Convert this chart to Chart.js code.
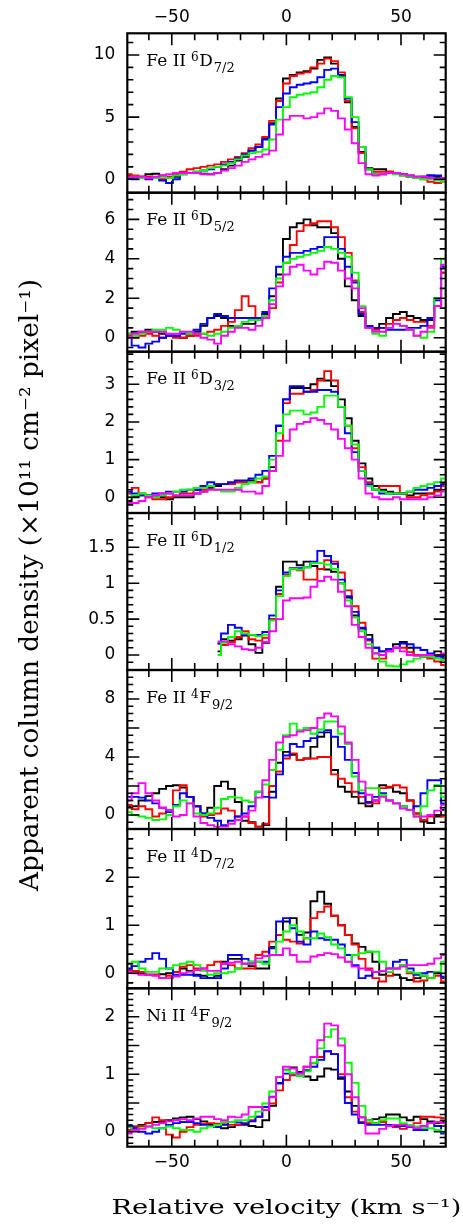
<!DOCTYPE html>
<html>
<head>
<meta charset="utf-8">
<script src="https://cdn.jsdelivr.net/npm/chart.js@4.4.1/dist/chart.umd.min.js"></script>
<style>
  html, body { margin: 0; padding: 0; background: #fff; }
  #wrap { position: relative; width: 463px; height: 1232px; }
</style>
</head>
<body>
<div id="wrap"><canvas id="profiles" width="463" height="1232"></canvas></div>
<script>
const velocity = [-69,-66,-63,-60,-57,-54,-51,-48,-45,-42,-39,-36,-33,-30,-27,-24,-21,-18,-15,-12,-9,-6,-3,0,3,6,9,12,15,18,21,24,27,30,33,36,39,42,45,48,51,54,57,60,63,66,69];

// Fe II 6D 7/2
const d72Black   = [0.3,0.2,0.2,0.4,0.45,0.3,0.1,0.2,0.5,0.5,0.5,0.45,0.4,0.5,0.8,1.1,1.5,1.8,2.3,2.6,3.3,4.5,6.5,8.1,8.4,8.6,8.7,8.9,9.6,9.8,9.3,8.4,6.2,4.2,2.2,0.9,0.8,0.8,0.6,0.5,0.4,0.3,0.2,0.2,0.3,0.2,0.0];
const d72Red     = [0.4,0.3,0.2,0.2,0.1,0.0,0.2,0.4,0.6,0.8,0.9,1.0,1.1,1.2,1.4,1.6,1.8,2.1,2.5,2.8,3.4,4.7,6.3,7.7,8.3,8.5,8.6,9.0,9.3,9.7,9.5,8.6,6.3,4.1,2.1,0.8,0.6,0.6,0.6,0.5,0.3,0.2,0.1,0.0,-0.2,-0.3,-0.2];
const d72Blue    = [0.1,0.0,0.1,0.0,0.1,-0.1,-0.3,0.0,0.4,0.5,0.6,0.7,0.8,1.0,1.2,1.4,1.7,2.0,2.3,2.6,3.2,4.4,5.8,6.9,7.4,7.6,7.7,7.8,8.2,8.8,8.9,8.3,6.5,4.6,2.6,0.8,0.4,0.4,0.5,0.5,0.4,0.2,0.1,0.2,0.3,0.3,0.1];
const d72Green   = [0.2,0.2,0.1,0.1,0.1,0.2,0.1,0.3,0.4,0.5,0.6,0.7,0.9,1.0,1.1,1.3,1.6,1.9,2.1,2.2,2.4,3.2,4.8,5.8,6.6,6.8,6.9,7.0,7.4,8.0,8.3,8.2,6.6,5.0,2.6,0.8,0.4,0.4,0.5,0.4,0.3,0.2,0.1,0.0,0.0,-0.1,-0.2];
const d72Magenta = [0.2,0.2,0.2,0.1,0.2,0.3,0.4,0.5,0.5,0.5,0.5,0.4,0.4,0.5,0.7,0.9,1.1,1.4,1.6,1.8,2.0,2.3,3.6,4.8,5.1,5.1,4.9,5.0,5.3,5.7,5.5,4.9,4.0,2.9,1.3,0.4,0.3,0.4,0.5,0.5,0.4,0.3,0.2,0.2,0.1,0.0,0.1];

// Fe II 6D 5/2
const d52Black   = [0.2,0.3,0.3,0.4,0.3,0.2,0.1,0.1,0.0,0.1,0.3,0.6,1.0,1.1,1.0,0.6,0.6,0.7,0.7,0.9,1.2,2.1,3.2,5.0,5.6,5.8,6.0,5.7,5.6,5.6,5.3,4.0,2.6,1.9,1.1,0.6,0.5,0.7,1.0,1.2,1.3,1.1,1.0,0.9,0.9,1.6,3.3];
const d52Red     = [0.1,0.0,0.1,0.2,0.1,0.0,0.1,0.0,0.0,0.1,0.1,0.2,0.3,0.4,0.6,0.8,1.4,2.1,1.6,1.0,1.0,1.5,2.8,3.8,4.7,5.4,5.7,5.8,5.9,5.9,5.6,5.1,4.3,2.9,1.3,0.5,0.4,0.5,0.7,0.9,1.0,0.9,0.8,0.8,0.6,1.6,3.3];
const d52Blue    = [0.0,-0.4,-0.5,-0.3,-0.2,0.0,0.1,0.1,0.2,0.2,0.4,0.7,1.0,1.2,1.1,1.0,1.0,1.0,1.0,1.0,1.3,2.5,3.6,4.1,4.3,4.3,4.4,4.5,4.6,5.1,5.1,4.5,3.6,2.8,1.2,0.6,0.5,0.5,0.4,0.4,0.4,0.5,0.5,0.6,1.0,1.9,3.6];
const d52Green   = [0.2,0.1,0.2,0.3,0.4,0.4,0.5,0.4,0.3,0.2,0.2,0.2,0.1,0.2,0.3,0.5,0.6,0.8,0.9,0.9,1.1,1.9,3.0,3.8,4.0,4.1,4.2,4.3,4.4,4.6,4.5,4.3,4.1,3.3,1.6,0.5,0.2,0.1,0.5,0.7,0.6,0.4,0.1,0.0,0.3,2.0,4.0];
const d52Magenta = [0.0,0.2,0.3,0.3,0.3,0.3,0.2,0.2,0.3,0.3,0.2,0.0,-0.1,-0.3,0.1,0.3,0.5,0.5,0.4,0.6,1.0,1.7,2.6,3.2,3.6,3.7,3.4,3.2,3.5,3.85,3.8,3.4,3.0,2.5,1.5,0.5,0.3,0.3,0.5,0.7,0.6,0.4,0.1,0.3,0.5,1.6,3.7];

// Fe II 6D 3/2
const d32Black   = [-0.1,0.0,0.05,0.05,0.0,0.0,-0.05,0.0,0.0,0.0,0.1,0.15,0.25,0.3,0.35,0.35,0.4,0.4,0.45,0.4,0.5,0.8,1.9,2.6,2.9,2.9,2.9,3.0,3.15,3.1,2.95,2.6,2.1,1.5,0.9,0.5,0.3,0.2,0.15,0.1,0.1,0.05,0.1,0.1,0.1,0.2,0.35];
const d32Red     = [0.1,0.25,0.1,0.0,-0.05,-0.05,0.0,0.05,0.1,0.1,0.2,0.2,0.3,0.35,0.35,0.35,0.4,0.4,0.4,0.4,0.5,0.7,1.5,2.5,2.75,2.75,2.8,2.85,3.1,3.35,3.1,2.4,1.9,1.3,0.8,0.4,0.2,0.3,0.3,0.3,0.1,0.0,0.0,0.05,0.1,0.15,0.3];
const d32Blue    = [0.15,0.1,0.05,0.05,0.1,0.1,0.15,0.15,0.15,0.2,0.2,0.3,0.4,0.35,0.35,0.4,0.45,0.45,0.5,0.6,0.7,1.1,1.9,2.6,2.95,2.95,2.8,2.8,2.85,2.85,2.8,2.4,1.7,1.2,0.7,0.35,0.2,0.1,0.1,0.1,0.1,0.15,0.2,0.2,0.25,0.3,0.35];
const d32Green   = [0.0,0.05,0.1,0.05,0.0,0.05,0.1,0.15,0.2,0.2,0.25,0.25,0.3,0.2,0.15,0.15,0.25,0.35,0.4,0.5,0.55,1.0,1.7,2.2,2.3,2.3,2.2,2.25,2.4,2.7,2.7,2.4,1.9,1.4,0.7,0.3,0.2,0.15,0.1,0.1,0.1,0.15,0.25,0.3,0.35,0.4,0.5];
const d32Magenta = [-0.15,-0.15,-0.1,0.0,0.05,0.1,0.1,0.05,0.05,0.05,0.1,0.15,0.2,0.2,0.2,0.2,0.2,0.15,0.15,0.1,0.3,0.7,1.1,1.5,1.8,1.95,2.0,2.1,2.05,1.95,1.8,1.55,1.3,1.0,0.5,0.1,0.0,-0.05,-0.05,0.0,-0.05,-0.05,-0.05,-0.05,0.0,0.05,0.15];

// Fe II 6D 1/2 (no coverage below -30 km/s)
const d12Black   = [null,null,null,null,null,null,null,null,null,null,null,null,null,0.05,0.22,0.2,0.22,0.27,0.15,0.03,0.17,0.5,0.95,1.3,1.3,1.25,1.3,1.24,1.2,1.19,1.16,1.0,0.8,0.55,0.37,0.28,0.1,0.05,0.08,0.15,0.18,0.1,0.0,-0.02,-0.02,0.05,-0.02];
const d12Red     = [null,null,null,null,null,null,null,null,null,null,null,null,null,0.16,0.14,0.18,0.25,0.33,0.22,0.2,0.24,0.5,0.85,1.12,1.2,1.18,1.05,1.05,1.2,1.32,1.3,1.15,0.9,0.68,0.45,0.2,-0.05,-0.05,0.05,0.1,0.1,0.04,0.0,-0.02,-0.05,-0.09,-0.14];
const d12Blue    = [null,null,null,null,null,null,null,null,null,null,null,null,null,0.16,0.3,0.42,0.38,0.28,0.28,0.28,0.32,0.55,0.9,1.15,1.21,1.21,1.22,1.3,1.45,1.38,1.27,1.05,0.82,0.6,0.38,0.22,0.1,0.05,0.08,0.1,0.16,0.15,0.1,0.07,0.02,-0.02,-0.04];
const d12Green   = [null,null,null,null,null,null,null,null,null,null,null,null,null,0.0,0.17,0.25,0.33,0.3,0.28,0.26,0.28,0.48,0.82,1.1,1.2,1.19,1.22,1.28,1.28,1.26,1.2,1.0,0.76,0.52,0.33,0.15,0.03,-0.09,-0.15,-0.16,-0.13,-0.09,-0.05,-0.02,-0.02,-0.05,-0.07];
const d12Magenta = [null,null,null,null,null,null,null,null,null,null,null,null,null,0.19,0.19,0.15,0.12,0.08,0.07,0.1,0.18,0.33,0.5,0.76,0.79,0.79,0.8,0.95,1.03,1.09,1.05,0.88,0.68,0.42,0.25,0.1,0.02,0.0,0.05,0.1,0.05,0.0,-0.01,0.0,0.0,0.0,0.02];

// Fe II 4F 9/2
const f92Black   = [0.6,0.6,1.0,1.3,1.5,1.8,2.0,2.05,1.9,1.25,0.6,0.1,0.5,2.0,2.3,1.8,0.9,-0.4,-0.5,-0.8,-0.7,1.6,3.6,4.35,4.15,3.8,3.9,4.7,5.4,5.7,3.1,1.95,1.6,1.25,0.8,0.6,1.0,2.05,1.9,1.6,1.5,1.0,0.1,-0.45,-0.55,-0.1,0.35];
const f92Red     = [0.7,0.4,0.6,0.4,-0.1,0.1,0.35,1.7,2.05,1.25,0.6,-0.1,0.0,0.1,0.45,0.3,-0.1,-0.1,-0.55,-0.8,-0.6,2.0,3.0,3.9,4.25,3.8,3.9,3.9,4.0,4.0,2.8,2.5,2.2,1.6,1.25,0.8,0.8,1.85,1.95,2.05,1.9,1.0,0.1,-0.35,-0.1,0.0,-0.1];
const f92Blue    = [1.25,1.25,1.2,1.0,0.8,0.5,0.2,0.7,1.5,1.25,0.6,0.1,-0.2,-0.4,-0.7,-0.4,-0.1,0.1,0.6,1.6,1.25,1.2,2.8,4.1,4.9,4.7,5.1,5.3,5.7,5.85,5.4,4.7,3.8,2.9,1.5,0.9,1.25,1.5,1.0,0.8,0.6,0.35,0.6,1.5,2.4,2.4,0.8];
const f92Green   = [0.2,0.0,-0.1,-0.2,-0.35,-0.3,0.0,0.6,1.0,0.8,0.1,0.0,0.1,0.5,1.1,1.25,1.2,1.0,0.9,1.6,2.1,3.1,4.5,5.5,6.3,5.85,6.0,5.6,5.9,6.45,6.45,5.6,4.9,2.65,1.7,1.85,1.85,1.4,1.0,0.8,0.6,0.35,-0.1,0.6,1.7,2.05,1.25];
const f92Magenta = [1.0,1.5,2.2,1.5,1.0,0.5,0.35,-0.1,0.0,0.8,-0.1,-0.55,-0.7,-0.8,-0.8,-0.6,-0.35,-0.1,0.3,1.2,2.4,3.8,5.0,5.4,5.5,5.75,5.85,6.0,6.7,7.0,6.8,6.1,5.0,3.8,2.3,1.4,1.0,1.25,1.0,0.8,0.45,0.35,-0.1,-0.1,0.0,0.3,0.7];

// Fe II 4D 7/2
const q72Black   = [0.2,0.05,0.0,-0.03,-0.03,-0.02,0.0,0.03,0.1,0.05,-0.03,-0.05,-0.1,-0.05,0.24,0.3,0.3,0.2,0.15,0.1,0.1,0.55,0.8,1.08,1.15,0.8,0.85,1.5,1.7,1.45,1.2,1.0,0.8,0.62,0.55,0.45,0.24,-0.03,0.03,-0.03,-0.1,-0.14,-0.1,-0.05,-0.1,0.0,-0.1];
const q72Red     = [0.07,0.05,0.03,-0.03,-0.03,-0.1,-0.05,0.03,0.14,0.17,0.1,0.1,0.17,0.24,0.2,0.17,0.1,0.1,0.1,0.38,0.45,0.66,0.8,0.7,0.66,0.62,0.73,1.15,1.28,1.39,1.2,1.0,0.8,0.6,0.3,0.1,-0.1,-0.17,-0.05,0.1,0.17,0.0,-0.17,-0.15,-0.1,-0.05,-0.17];
const q72Blue    = [0.1,0.15,0.24,0.3,0.42,0.3,0.1,-0.03,-0.03,-0.03,-0.05,-0.1,-0.1,-0.1,0.1,0.38,0.38,0.3,0.24,0.24,0.24,0.52,1.08,1.15,0.94,0.66,0.6,0.87,0.73,0.7,0.7,0.6,0.38,0.17,-0.1,-0.05,0.03,0.05,0.1,0.24,0.28,0.1,-0.03,0.0,0.03,0.03,-0.07];
const q72Green   = [0.2,0.24,0.1,0.03,0.03,0.1,0.1,0.17,0.2,0.24,0.17,0.05,-0.03,0.0,0.0,0.03,0.1,0.2,0.24,0.24,0.2,0.38,0.66,0.87,1.0,0.87,0.73,0.73,0.83,0.75,0.6,0.52,0.24,0.38,0.42,0.45,0.45,0.24,0.03,0.1,0.17,0.03,0.0,-0.05,-0.1,0.03,0.24];
const q72Magenta = [0.03,0.0,-0.03,-0.03,-0.05,-0.1,-0.1,-0.07,0.0,0.03,0.07,0.1,0.05,0.05,0.2,0.22,0.24,0.2,0.2,0.31,0.36,0.38,0.38,0.52,0.38,0.24,0.24,0.35,0.38,0.42,0.4,0.33,0.24,0.14,0.1,0.07,0.03,0.05,0.1,0.1,0.14,0.17,0.17,0.17,0.2,0.31,0.38];

// Ni II 4F 9/2
const niBlack    = [0.09,0.09,0.12,0.15,0.17,0.17,0.2,0.23,0.25,0.26,0.22,0.18,0.12,0.08,0.06,0.08,0.12,0.12,0.1,0.08,0.2,0.45,0.85,1.08,1.12,1.04,0.96,0.9,0.96,1.1,1.08,0.92,0.7,0.45,0.25,0.2,0.22,0.25,0.3,0.3,0.25,0.2,0.26,0.22,0.18,0.15,0.17];
const niRed      = [0.03,0.08,0.1,0.15,0.25,0.2,-0.05,-0.1,0.0,0.08,0.12,0.14,0.15,0.14,0.13,0.12,0.12,0.15,0.2,0.26,0.38,0.49,0.72,0.9,0.98,1.01,1.13,1.19,1.3,1.4,1.35,1.0,0.6,0.35,0.17,0.15,0.15,0.17,0.1,0.08,0.05,0.08,0.15,0.26,0.26,0.25,0.24];
const niBlue     = [0.12,0.06,0.0,-0.03,0.0,0.06,0.12,0.15,0.17,0.17,0.15,0.12,0.1,0.08,0.12,0.17,0.16,0.14,0.18,0.26,0.43,0.61,0.84,1.01,1.01,1.02,1.07,1.13,1.25,1.4,1.35,0.95,0.5,0.3,0.15,0.12,0.12,0.12,0.12,0.1,0.1,0.08,0.03,0.03,0.15,0.1,-0.03];
const niGreen    = [0.09,0.03,0.06,0.09,0.06,0.06,0.09,0.06,0.03,0.03,0.0,0.06,0.09,0.12,0.17,0.17,0.2,0.2,0.26,0.35,0.49,0.7,0.95,1.07,1.02,0.97,1.05,1.2,1.45,1.65,1.78,1.62,1.2,0.85,0.45,0.2,0.15,0.2,0.23,0.23,0.15,0.12,0.09,0.06,0.06,0.03,0.0];
const niMagenta  = [-0.03,0.03,0.05,0.09,0.12,0.15,0.18,0.2,0.22,0.2,0.23,0.26,0.26,0.22,0.2,0.26,0.25,0.3,0.43,0.43,0.38,0.6,0.95,1.13,1.1,1.01,1.13,1.3,1.59,1.88,1.85,1.5,1.0,0.6,0.25,-0.03,-0.03,0.05,0.1,0.12,0.12,0.09,0.06,0.1,0.15,0.17,0.15];

const velocityTicks = [-50, 0, 50];
const traceColors = ['#000000', '#ff0000', '#0000ff', '#00ff00', '#ff00ff'];

// one entry per stacked panel, top to bottom
const panels = [
  { id: 'p1', ion: 'Fe II', mult: '6', term: 'D', j: '7/2', min: -1.08, max: 11.74, labels: [0, 5, 10],        major: 5,   minor: 1,   h: 159.4, series: [d72Black, d72Red, d72Blue, d72Green, d72Magenta] },
  { id: 'p2', ion: 'Fe II', mult: '6', term: 'D', j: '5/2', min: -0.71, max: 7.35,  labels: [0, 2, 4, 6],      major: 2,   minor: 0.5, h: 159.0, series: [d52Black, d52Red, d52Blue, d52Green, d52Magenta] },
  { id: 'p3', ion: 'Fe II', mult: '6', term: 'D', j: '3/2', min: -0.417, max: 3.865, labels: [0, 1, 2, 3],     major: 1,   minor: 0.2, h: 161.3, series: [d32Black, d32Red, d32Blue, d32Green, d32Magenta] },
  { id: 'p4', ion: 'Fe II', mult: '6', term: 'D', j: '1/2', min: -0.209, max: 1.978, labels: [0, 0.5, 1, 1.5], major: 0.5, minor: 0.1, h: 157.0, series: [d12Black, d12Red, d12Blue, d12Green, d12Magenta] },
  { id: 'p5', ion: 'Fe II', mult: '4', term: 'F', j: '9/2', min: -0.966, max: 10.0,  labels: [0, 2, 4, 6, 8],   major: 2,   minor: 0.5, h: 159.0, series: [f92Black, f92Red, f92Blue, f92Green, f92Magenta] },
  { id: 'p6', ion: 'Fe II', mult: '4', term: 'D', j: '7/2', min: -0.3125, max: 3.006, labels: [0, 1, 2],       major: 1,   minor: 0.2, h: 159.3, series: [q72Black, q72Red, q72Blue, q72Green, q72Magenta] },
  { id: 'p7', ion: 'Ni II', mult: '4', term: 'F', j: '9/2', min: -0.26, max: 2.494, labels: [0, 0.5, 1, 1.5, 2], major: 0.5, minor: 0.1, h: 158.4, series: [niBlack, niRed, niBlue, niGreen, niMagenta] }
];

const AXIS_W = 127.3, TOP_H = 33.3, BOTTOM_H = 1232 - 1146.7;
const tickFont = { family: 'DejaVu Sans', size: 17 };
const serif = '"DejaVu Serif", "Liberation Serif", serif';

function minusLabel(v) {
  return v < 0 ? '\u2212' + Math.abs(v) : String(v);
}

const datasets = [];
panels.forEach(function (p) {
  p.series.forEach(function (vals, j) {
    datasets.push({
      data: velocity.map(function (v, i) { return { x: v, y: vals[i] }; }),
      xAxisID: 'x',
      yAxisID: p.id,
      borderColor: traceColors[j],
      borderWidth: 1.9,
      pointRadius: 0,
      stepped: 'middle',
      fill: false,
      spanGaps: false,
      order: traceColors.length - j
    });
  });
});

function velocityAxis(position, height, pad) {
  return {
    type: 'linear',
    position: position,
    min: -69.4,
    max: 69.5,
    grid: { display: false, drawTicks: false },
    border: { display: false },
    ticks: { font: tickFont, color: '#000', padding: pad, maxRotation: 0, callback: minusLabel },
    afterBuildTicks: function (axis) {
      axis.ticks = velocityTicks.map(function (v) { return { value: v }; });
    },
    afterFit: function (axis) { axis.height = height; }
  };
}

const scales = {
  x: velocityAxis('bottom', BOTTOM_H, 6),
  xTop: velocityAxis('top', TOP_H, 6)
};

panels.forEach(function (p, k) {
  scales[p.id] = {
    type: 'linear',
    position: 'left',
    stack: 'panels',
    stackWeight: p.h,
    weight: panels.length - k,
    min: p.min,
    max: p.max,
    grid: { display: false, drawTicks: false },
    border: { display: false },
    ticks: { font: tickFont, color: '#000', padding: 12, callback: function (v) { return String(v); } },
    afterBuildTicks: function (axis) {
      axis.ticks = p.labels.map(function (v) { return { value: v }; });
    },
    afterFit: function (axis) { axis.width = AXIS_W; }
  };
});

// keep every trace inside its own panel
const panelClip = {
  id: 'panelClip',
  beforeDatasetDraw: function (chart, args) {
    var xs = args.meta.xScale, ys = args.meta.yScale, ctx = chart.ctx;
    ctx.save();
    ctx.beginPath();
    ctx.rect(xs.left, ys.top, xs.right - xs.left, ys.bottom - ys.top);
    ctx.clip();
  },
  afterDatasetDraw: function (chart) {
    chart.ctx.restore();
  }
};

function fitText(ctx, text, width) {
  var w = ctx.measureText(text).width;
  return width / w;
}

// frames, inward ticks, panel labels and axis titles
const panelDecor = {
  id: 'panelDecor',
  afterDraw: function (chart) {
    var ctx = chart.ctx, area = chart.chartArea, xs = chart.scales.x;
    ctx.save();
    ctx.strokeStyle = '#000';
    ctx.fillStyle = '#000';

    panels.forEach(function (p) {
      var ys = chart.scales[p.id];
      var top = ys.top, bottom = ys.bottom, left = area.left, right = area.right;

      ctx.lineWidth = 1.6;
      ctx.beginPath();
      for (var v = -60; v <= 60; v += 10) {
        var px = xs.getPixelForValue(v);
        var len = v % 50 === 0 ? 12 : 7;
        ctx.moveTo(px, top); ctx.lineTo(px, top + len);
        ctx.moveTo(px, bottom); ctx.lineTo(px, bottom - len);
      }
      var first = Math.ceil(p.min / p.minor), last = Math.floor(p.max / p.minor);
      for (var i = first; i <= last; i++) {
        var val = i * p.minor;
        var py = ys.getPixelForValue(val);
        if (py < top + 1 || py > bottom - 1) continue;
        var r = val / p.major;
        var ylen = Math.abs(r - Math.round(r)) < 1e-6 ? 12 : 6;
        ctx.moveTo(left, py); ctx.lineTo(left + ylen, py);
        ctx.moveTo(right, py); ctx.lineTo(right - ylen, py);
      }
      ctx.stroke();

      ctx.lineWidth = 2.2;
      ctx.strokeRect(left, top, right - left, bottom - top);

      // transition label, e.g. Fe II 6D7/2
      var x = left + 19, base = top + 32.5;
      ctx.textBaseline = 'alphabetic';
      ctx.textAlign = 'left';
      ctx.font = '17px ' + serif;
      ctx.fillText(p.ion, x, base);
      x += ctx.measureText(p.ion).width + 5;
      ctx.font = '12px ' + serif;
      ctx.fillText(p.mult, x, base - 5);
      x += ctx.measureText(p.mult).width + 0.5;
      ctx.font = '17px ' + serif;
      ctx.fillText(p.term, x, base);
      x += ctx.measureText(p.term).width + 1;
      ctx.font = '13px ' + serif;
      ctx.fillText(p.j, x, base + 6);
    });

    ctx.textAlign = 'center';
    ctx.textBaseline = 'middle';

    var xTitle = 'Relative velocity (km s\u207B\u00B9)';
    ctx.font = '21px ' + serif;
    var sx = fitText(ctx, xTitle, 350);
    ctx.save();
    ctx.translate((area.left + area.right) / 2, 1209);
    ctx.scale(sx, 1);
    ctx.fillText(xTitle, 0, 0);
    ctx.restore();

    var yTitle = 'Apparent column density (\u00D710\u00B9\u00B9 cm\u207B\u00B2 pixel\u207B\u00B9)';
    ctx.font = '26px ' + serif;
    var sy = fitText(ctx, yTitle, 612);
    ctx.save();
    ctx.translate(31, 585);
    ctx.rotate(-Math.PI / 2);
    ctx.scale(sy, 1);
    ctx.fillText(yTitle, 0, 0);
    ctx.restore();

    ctx.restore();
  }
};

new Chart(document.getElementById('profiles'), {
  type: 'line',
  data: { datasets: datasets },
  options: {
    responsive: false,
    animation: false,
    devicePixelRatio: 1,
    events: [],
    layout: { padding: { left: 0, right: 463 - 445.7, top: 0, bottom: 0 } },
    plugins: { legend: { display: false }, tooltip: { enabled: false } },
    scales: scales
  },
  plugins: [panelClip, panelDecor]
});
</script>
</body>
</html>
